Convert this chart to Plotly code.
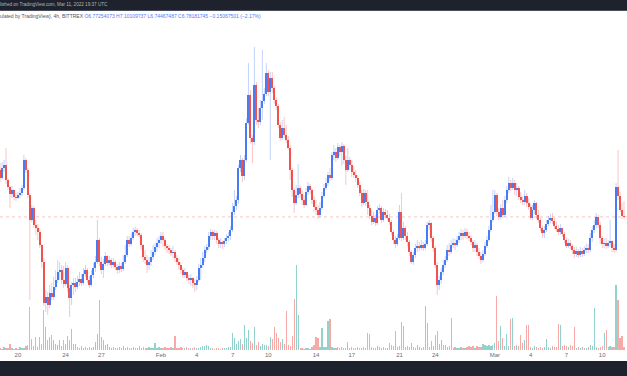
import plotly.graph_objects as go
import pandas as pd

# ---------------- data (4h candles, BITTREX) ----------------
first_open = 7.72
closes = [
    7.56, 7.76, 7.82, 7.52, 7.38, 7.24, 7.32, 7.18, 7.16, 7.22,
    7.26, 7.36, 7.92, 7.72, 7.22, 6.72, 6.96, 6.62, 6.56, 6.48,
    6.22, 5.88, 5.06, 5.18, 5.02, 5.26, 5.18, 5.38, 5.52, 5.68,
    5.72, 5.52, 5.44, 5.76, 5.36, 5.16, 5.42, 5.46, 5.38, 5.48,
    5.54, 5.46, 5.64, 5.72, 5.52, 5.42, 5.62, 5.76, 5.88, 6.32,
    5.88, 5.72, 5.84, 6.00, 5.86, 5.92, 5.82, 5.88, 5.78, 5.72,
    5.80, 5.74, 5.88, 6.02, 6.32, 6.24, 6.36, 6.48, 6.52, 6.46,
    6.42, 6.22, 5.98, 5.92, 5.82, 5.88, 5.98, 6.08, 6.18, 6.26,
    6.32, 6.40, 6.32, 6.20, 6.16, 6.12, 6.06, 6.08, 5.96, 5.88,
    5.82, 5.72, 5.62, 5.68, 5.56, 5.52, 5.56, 5.46, 5.42, 5.52,
    5.76, 5.82, 5.96, 6.12, 6.18, 6.40, 6.48, 6.40, 6.46, 6.32,
    6.24, 6.28, 6.24, 6.30, 6.36, 6.40, 6.52, 6.88, 7.00, 7.12,
    7.76, 7.92, 7.60, 7.92, 8.66, 9.22, 8.36, 8.28, 9.42, 8.72,
    8.68, 8.96, 9.10, 9.24, 9.66, 9.28, 9.56, 9.36, 9.12, 9.00,
    8.62, 8.36, 8.56, 8.42, 8.32, 8.16, 7.72, 7.32, 7.06, 7.22,
    7.36, 7.24, 7.12, 7.02, 7.28, 7.40, 7.32, 7.12, 6.98, 6.92,
    6.82, 6.96, 7.20, 7.36, 7.46, 7.62, 7.56, 8.02, 8.08, 7.96,
    8.18, 8.08, 8.20, 7.92, 7.72, 7.92, 7.82, 7.68, 7.62, 7.56,
    7.42, 7.26, 7.06, 7.26, 7.08, 6.96, 6.80, 6.68, 6.76, 6.66,
    6.92, 6.96, 6.72, 6.88, 6.82, 6.76, 6.68, 6.48, 6.32, 6.24,
    6.36, 6.88, 6.36, 6.56, 6.40, 6.28, 6.08, 5.88, 6.02, 6.16,
    6.20, 6.16, 6.22, 6.16, 6.24, 6.62, 6.66, 6.36, 6.16, 5.82,
    5.42, 5.52, 5.68, 5.82, 5.92, 6.12, 6.08, 6.22, 6.26, 6.22,
    6.32, 6.40, 6.46, 6.40, 6.48, 6.40, 6.36, 6.28, 6.16, 6.22,
    6.08, 6.00, 5.92, 6.04, 6.20, 6.32, 6.52, 6.72, 6.88, 7.22,
    6.88, 6.78, 6.96, 6.82, 7.12, 7.32, 7.46, 7.36, 7.46, 7.32,
    7.36, 7.18, 7.12, 7.08, 7.20, 7.06, 6.98, 6.76, 6.92, 7.06,
    6.82, 6.72, 6.56, 6.46, 6.52, 6.64, 6.72, 6.76, 6.70, 6.60,
    6.54, 6.48, 6.56, 6.44, 6.32, 6.20, 6.26, 6.20, 6.12, 6.04,
    6.10, 6.02, 6.10, 6.04, 6.12, 6.16, 6.12, 6.36, 6.52, 6.62,
    6.78, 6.62, 6.36, 6.24, 6.26, 6.20, 6.26, 6.30, 6.16, 6.12,
    7.38, 7.20, 6.92, 6.80, 6.78,
]
highs = [
    7.86, 7.88, 7.92, 8.16, 7.56, 7.42, 7.40, 7.34, 7.26, 7.28,
    7.36, 7.42, 8.02, 7.96, 7.76, 7.26, 7.02, 7.00, 6.72, 6.64,
    6.56, 6.24, 5.96, 5.32, 5.28, 5.42, 5.46, 5.58, 5.72, 5.92,
    5.88, 5.82, 5.80, 5.88, 5.82, 5.42, 5.48, 5.56, 5.56, 5.60,
    5.68, 5.64, 5.76, 5.82, 5.76, 5.60, 5.72, 5.86, 6.00, 6.72,
    6.36, 5.98, 5.94, 6.08, 6.02, 6.00, 5.96, 5.96, 5.92, 5.84,
    5.88, 5.86, 6.02, 6.22, 6.40, 6.40, 6.46, 6.56, 6.58, 6.56,
    6.52, 6.46, 6.24, 6.12, 6.02, 5.98, 6.12, 6.22, 6.26, 6.36,
    6.40, 6.48, 6.48, 6.36, 6.24, 6.22, 6.16, 6.20, 6.12, 6.02,
    5.96, 5.88, 5.76, 5.76, 5.68, 5.62, 5.64, 5.58, 5.54, 5.60,
    5.84, 5.96, 6.08, 6.20, 6.24, 6.48, 6.54, 6.52, 6.52, 6.50,
    6.36, 6.36, 6.32, 6.36, 6.44, 6.48, 6.60, 7.06, 7.32, 7.20,
    7.82, 8.02, 7.96, 8.02, 8.76, 9.86, 9.32, 8.42, 10.18, 9.48,
    8.96, 9.12, 10.12, 9.36, 9.86, 9.72, 9.68, 9.68, 9.40, 9.18,
    9.04, 8.68, 8.72, 8.78, 8.62, 8.40, 8.22, 7.76, 7.36, 7.42,
    7.84, 7.42, 7.32, 7.22, 7.36, 7.48, 7.44, 7.36, 7.20, 7.12,
    7.02, 7.08, 7.28, 7.44, 7.56, 7.68, 7.76, 8.08, 8.22, 8.16,
    8.26, 8.22, 8.28, 8.24, 8.00, 8.16, 7.98, 7.92, 7.80, 7.72,
    7.62, 7.48, 7.32, 7.34, 7.32, 7.32, 7.02, 6.92, 6.88, 6.82,
    7.00, 7.04, 7.00, 6.96, 6.94, 6.92, 6.84, 6.72, 6.52, 6.40,
    6.44, 7.02, 7.26, 6.68, 6.60, 6.48, 6.32, 6.12, 6.08, 6.24,
    6.32, 6.28, 6.32, 6.28, 6.32, 6.68, 6.72, 6.68, 6.40, 6.20,
    5.88, 5.60, 5.76, 5.92, 6.00, 6.22, 6.26, 6.32, 6.36, 6.34,
    6.40, 6.48, 6.54, 6.52, 6.56, 6.54, 6.48, 6.42, 6.32, 6.32,
    6.26, 6.16, 6.08, 6.12, 6.28, 6.40, 6.60, 7.02, 7.32, 7.32,
    7.26, 6.96, 7.04, 7.12, 7.20, 7.40, 7.58, 7.52, 7.56, 7.52,
    7.46, 7.40, 7.28, 7.20, 7.32, 7.26, 7.16, 7.04, 7.02, 7.12,
    7.08, 6.92, 6.76, 6.60, 6.60, 6.72, 6.80, 6.84, 6.86, 6.76,
    6.68, 6.62, 6.64, 6.56, 6.48, 6.36, 6.34, 6.32, 6.24, 6.18,
    6.18, 6.14, 6.18, 6.16, 6.20, 6.24, 6.24, 6.46, 6.60, 6.72,
    6.86, 6.82, 6.68, 6.40, 6.36, 6.36, 6.32, 6.72, 6.32, 6.24,
    7.46, 8.12, 7.28, 7.06, 7.10,
]
lows = [
    7.48, 7.52, 7.68, 7.44, 7.32, 6.96, 7.16, 7.12, 7.10, 7.14,
    7.16, 7.20, 7.32, 7.66, 7.16, 5.12, 6.68, 6.56, 6.42, 6.32,
    6.16, 5.76, 5.00, 4.88, 4.82, 4.96, 5.12, 5.12, 5.32, 5.46,
    5.52, 5.44, 5.36, 5.40, 5.28, 4.78, 5.02, 5.22, 5.28, 5.34,
    5.40, 5.40, 5.42, 5.58, 5.46, 5.36, 5.38, 5.56, 5.68, 5.84,
    5.80, 5.64, 5.56, 5.80, 5.80, 5.82, 5.76, 5.76, 5.72, 5.64,
    5.66, 5.68, 5.70, 5.84, 5.98, 6.18, 6.20, 6.32, 6.40, 6.40,
    6.36, 6.12, 5.88, 5.84, 5.66, 5.72, 5.80, 5.92, 6.02, 6.08,
    6.16, 6.24, 6.18, 6.12, 6.06, 6.04, 6.00, 5.96, 5.88, 5.82,
    5.72, 5.64, 5.56, 5.56, 5.50, 5.44, 5.40, 5.36, 5.28, 5.32,
    5.48, 5.52, 5.76, 5.88, 6.06, 6.12, 6.32, 6.32, 6.32, 6.24,
    6.16, 6.16, 6.14, 6.18, 6.24, 6.30, 6.32, 6.48, 6.82, 6.92,
    7.04, 7.68, 7.48, 7.52, 7.88, 8.62, 8.26, 7.86, 8.22, 8.62,
    8.56, 8.62, 8.72, 9.04, 9.20, 9.20, 7.92, 9.26, 9.04, 8.92,
    8.56, 8.30, 8.32, 8.36, 8.26, 8.12, 7.52, 7.18, 6.86, 7.02,
    7.16, 7.16, 7.02, 6.96, 7.00, 7.22, 7.24, 7.04, 6.88, 6.82,
    6.74, 6.76, 6.92, 7.16, 7.32, 7.40, 7.50, 7.52, 7.92, 7.88,
    7.92, 8.00, 7.80, 7.84, 7.42, 7.68, 7.72, 7.58, 7.56, 7.48,
    7.36, 7.20, 6.98, 7.02, 7.00, 6.82, 6.74, 6.62, 6.64, 6.60,
    6.62, 6.84, 6.66, 6.68, 6.76, 6.72, 6.62, 6.42, 6.24, 6.16,
    6.20, 6.32, 6.30, 6.32, 6.32, 6.20, 6.00, 5.84, 5.82, 5.96,
    6.08, 6.10, 6.12, 6.10, 6.12, 6.20, 6.52, 6.28, 6.08, 5.76,
    5.22, 5.32, 5.44, 5.62, 5.76, 5.88, 6.00, 6.04, 6.16, 6.12,
    6.18, 6.26, 6.32, 6.32, 6.36, 6.34, 6.30, 6.22, 6.08, 6.08,
    6.00, 5.94, 5.84, 5.88, 6.00, 6.16, 6.28, 6.48, 6.68, 6.84,
    6.80, 6.72, 6.74, 6.76, 6.78, 7.06, 7.26, 7.30, 7.32, 7.22,
    7.20, 7.12, 7.06, 7.02, 7.02, 6.98, 6.92, 6.72, 6.72, 6.84,
    6.74, 6.66, 6.50, 6.36, 6.36, 6.48, 6.60, 6.66, 6.64, 6.54,
    6.48, 6.42, 6.42, 6.38, 6.26, 6.16, 6.16, 6.14, 6.04, 5.96,
    5.98, 5.96, 5.98, 5.98, 6.00, 6.06, 6.06, 6.08, 6.28, 6.46,
    6.56, 6.56, 6.24, 6.16, 6.16, 6.14, 6.16, 6.18, 6.08, 6.06,
    6.08, 7.12, 6.88, 6.74, 6.74,
]
volumes = [  # thousands
    2, 1, 3, 2, 2, 6, 2, 1, 2, 1,
    3, 2, 2, 4, 5, 43, 11, 4, 13, 3,
    13, 6, 40, 23, 10, 13, 15, 10, 6, 5,
    10, 4, 10, 6, 14, 10, 21, 6, 6, 3,
    2, 4, 2, 3, 2, 3, 2, 3, 8, 16,
    50, 13, 10, 5, 6, 3, 2, 3, 2, 2,
    3, 2, 4, 2, 3, 2, 2, 3, 2, 2,
    4, 2, 3, 2, 2, 3, 2, 2, 7, 2,
    3, 2, 2, 3, 2, 2, 3, 2, 14, 2,
    2, 3, 2, 2, 3, 2, 2, 2, 3, 2,
    2, 3, 4, 4, 5, 4, 2, 2, 1, 2,
    2, 1, 2, 2, 2, 3, 3, 17, 12, 6,
    9, 11, 6, 25, 12, 20, 9, 7, 23, 5,
    8, 4, 6, 5, 5, 4, 13, 11, 23, 17,
    12, 8, 11, 6, 39, 5, 4, 14, 51, 85,
    35, 2, 2, 1, 2, 2, 1, 3, 5, 13,
    12, 3, 22, 3, 3, 29, 31, 3, 2, 2,
    3, 2, 3, 2, 2, 8, 2, 3, 2, 2,
    3, 2, 2, 3, 2, 17, 16, 3, 2, 2,
    4, 3, 2, 3, 2, 2, 7, 5, 4, 19,
    3, 4, 28, 24, 3, 4, 3, 7, 3, 2,
    5, 3, 2, 3, 44, 27, 3, 9, 4, 15,
    19, 6, 10, 5, 5, 3, 4, 32, 2, 3,
    2, 2, 3, 2, 2, 3, 4, 3, 4, 2,
    4, 3, 3, 6, 5, 4, 5, 4, 5, 7,
    54, 9, 24, 12, 4, 16, 4, 31, 32, 4,
    5, 4, 15, 7, 10, 25, 25, 3, 2, 4,
    3, 2, 3, 2, 3, 11, 3, 2, 4, 3,
    3, 26, 25, 4, 5, 4, 3, 5, 4, 23,
    2, 3, 2, 3, 2, 2, 3, 5, 4, 42,
    3, 2, 3, 4, 17, 20, 3, 4, 3, 3,
    65, 50, 12, 14, 3,
]
tick_dates = ["2022-01-20", "2022-01-24", "2022-01-27", "2022-02-01", "2022-02-04",
              "2022-02-07", "2022-02-10", "2022-02-14", "2022-02-17", "2022-02-21",
              "2022-02-24", "2022-03-01", "2022-03-04", "2022-03-07", "2022-03-10"]
tick_labels = ["20", "24", "27", "Feb", "4", "7", "10", "14", "17", "21", "24",
               "Mar", "4", "7", "10"]
last_close = 6.78181745
header_line1 = "lished on TradingView.com, Mar 11, 2022 19:37 UTC"
header_line2a = "ulated by TradingView), 4h, BITTREX "
header_line2b = "O6.77254073 H7.10109737 L6.74467487 C6.78181745 \u22120.15067501 (\u22122.17%)"

assert len(closes) == len(highs) == len(lows) == len(volumes)

# ---------------- build ----------------
times = pd.date_range("2022-01-18 12:00", periods=len(closes), freq="4h")
opens = [first_open] + closes[:-1]
up = [c >= o for o, c in zip(opens, closes)]

UP_BODY = "#4a7bf6"
DN_BODY = "#ef5350"
UP_WICK = "rgba(74,123,246,0.33)"
DN_WICK = "rgba(239,83,80,0.33)"
UP_VOL = "rgba(38,166,154,0.5)"
DN_VOL = "rgba(239,83,80,0.5)"
BAR_MS = 4 * 3600 * 1000 * 0.62

fig = go.Figure()

# volume (primary y, drawn underneath)
fig.add_trace(go.Bar(
    x=times, y=volumes, width=BAR_MS,
    marker=dict(color=[UP_VOL if u else DN_VOL for u in up], line=dict(width=0)),
    yaxis="y", hoverinfo="skip"))

# wicks
for flag, col in ((True, UP_WICK), (False, DN_WICK)):
    wx, wy = [], []
    for t, h, l, u in zip(times, highs, lows, up):
        if u == flag:
            wx += [t, t, None]
            wy += [l, h, None]
    fig.add_trace(go.Scatter(x=wx, y=wy, mode="lines", yaxis="y2",
                             line=dict(color=col, width=1), hoverinfo="skip"))

# bodies
for flag, col in ((True, UP_BODY), (False, DN_BODY)):
    bx, bb, bh = [], [], []
    for t, o, c, u in zip(times, opens, closes, up):
        if u == flag:
            bx.append(t)
            bb.append(min(o, c))
            bh.append(max(abs(c - o), 0.01))
    fig.add_trace(go.Bar(x=bx, y=bh, base=bb, width=BAR_MS, yaxis="y2",
                         marker=dict(color=col, line=dict(width=0)), hoverinfo="skip"))

PLOT_H = 376 - 11 - 26

fig.update_layout(
    width=627, height=376,
    margin=dict(l=0, r=0, t=11, b=26, pad=0),
    paper_bgcolor="white", plot_bgcolor="white",
    showlegend=False, barmode="overlay", bargap=0,
    font=dict(family="Liberation Sans, Arial, sans-serif"),
    xaxis=dict(type="date", range=["2022-01-18 11:54", "2022-03-12 02:00"],
               tickvals=tick_dates, ticktext=tick_labels, ticks="",
               tickfont=dict(size=6, color="#6a6d78"),
               showgrid=False, zeroline=False, showline=False, fixedrange=True),
    yaxis=dict(range=[0, PLOT_H], visible=False, fixedrange=True),
    yaxis2=dict(range=[4.12, 10.90], overlaying="y", visible=False, fixedrange=True),
    shapes=[
        dict(type="line", xref="paper", x0=0, x1=1, yref="y2", y0=last_close, y1=last_close,
             line=dict(color="rgba(239,83,80,0.35)", width=1, dash="dot"), layer="below"),
        dict(type="rect", xref="paper", x0=-0.01, x1=1.01, yref="paper",
             y0=1 + 1 / PLOT_H, y1=1.2, fillcolor="#1e222d", line=dict(width=0), layer="above"),
        dict(type="rect", xref="paper", x0=-0.01, x1=1.01, yref="paper",
             y0=1, y1=1 + 1 / PLOT_H, fillcolor="#4b4f5c", line=dict(width=0), layer="above"),
        dict(type="rect", xref="paper", x0=-0.01, x1=1.01, yref="paper",
             y0=-(361 - 350) / PLOT_H, y1=-0.2, fillcolor="#1e222d", line=dict(width=0), layer="above"),
    ],
    annotations=[
        dict(text=header_line1, x=-0.003, y=1 + 6 / PLOT_H, xref="paper", yref="paper",
             xanchor="left", yanchor="middle", showarrow=False,
             font=dict(size=4.6, color="#b2b5be")),
        dict(text=header_line2a + "<span style='color:#4f7cf2'>" + header_line2b + "</span>",
             x=-0.003, y=1 - 4.5 / PLOT_H, xref="paper", yref="paper",
             xanchor="left", yanchor="middle", showarrow=False,
             font=dict(size=5, color="#50535e")),
    ],
)

fig.write_html(
    "out.html",
    config={"displayModeBar": False},
    post_script="document.body.style.margin='0';document.body.style.padding='0';"
                "document.documentElement.style.overflow='hidden';",
)
